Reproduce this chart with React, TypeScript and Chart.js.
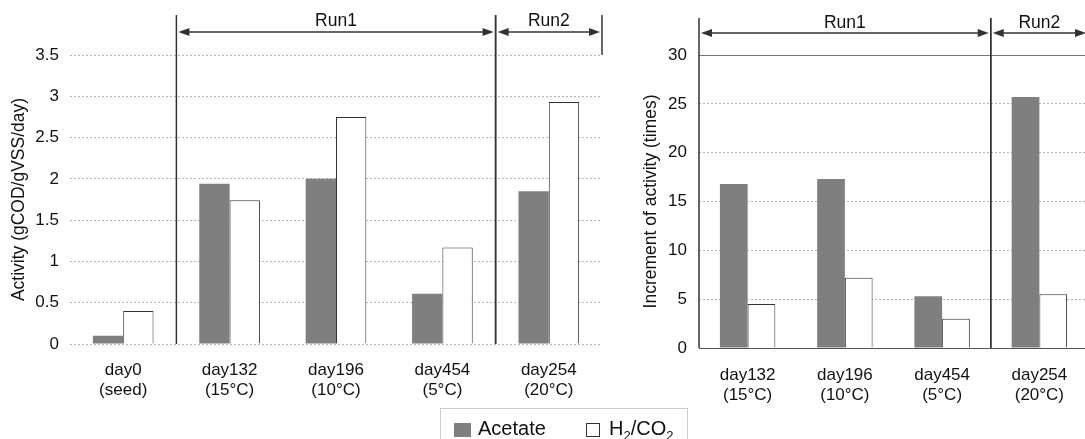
import { useEffect, useRef } from 'react';
import { Chart, registerables } from 'chart.js';

Chart.register(...registerables);

// ---------------- data ----------------
const leftCategories = [
  ['day0', '(seed)'],
  ['day132', '(15°C)'],
  ['day196', '(10°C)'],
  ['day454', '(5°C)'],
  ['day254', '(20°C)'],
];
const leftAcetate = [0.1, 1.94, 2.0, 0.61, 1.85];
const leftH2CO2 = [0.4, 1.74, 2.75, 1.17, 2.93];

const rightCategories = [
  ['day132', '(15°C)'],
  ['day196', '(10°C)'],
  ['day454', '(5°C)'],
  ['day254', '(20°C)'],
];
const rightAcetate = [16.8, 17.3, 5.3, 25.7];
const rightH2CO2 = [4.5, 7.2, 3.0, 5.5];

const leftRuns = [
  { label: 'Run1', first: 1, last: 3 },
  { label: 'Run2', first: 4, last: 4 },
];
const rightRuns = [
  { label: 'Run1', first: 0, last: 2 },
  { label: 'Run2', first: 3, last: 3 },
];

const leftTitle = 'Activity (gCOD/gVSS/day)';
const rightTitle = 'Increment of activity (times)';

// ---------------- styles ----------------
const FONT = "'Liberation Sans', Arial, sans-serif";
const TEXT = '#111';
const ACETATE_FILL = '#7f7f7f';
const LINE = '#333';

function makeRunPlugin(runs: any[], cfg: any) {
  return {
    id: 'runs',
    afterDraw(chart: any) {
      const { ctx, chartArea } = chart;
      const xs = chart.scales.x;
      const n = chart.data.labels.length;
      const px = (i: number) => xs.getPixelForValue(i);
      const bound = (i: number) =>
        i <= 0 ? chartArea.left : i >= n ? chartArea.right : (px(i - 1) + px(i)) / 2;
      ctx.save();
      if (cfg.topLine) {
        ctx.strokeStyle = '#777';
        ctx.lineWidth = 1;
        ctx.beginPath();
        const y = Math.round(chartArea.top) + 0.5;
        ctx.moveTo(chartArea.left, y);
        ctx.lineTo(chartArea.right, y);
        ctx.stroke();
      }
      ctx.strokeStyle = LINE;
      ctx.fillStyle = LINE;
      ctx.lineWidth = 1.5;
      const vline = (x: number, y0: number, y1: number) => {
        ctx.beginPath();
        ctx.moveTo(x, y0);
        ctx.lineTo(x, y1);
        ctx.stroke();
      };
      const arrow = (xa: number, xb: number, y: number) => {
        const g = 2, L = 11, W = 4;
        const a = xa + g, b = xb - g;
        ctx.lineWidth = 1.5;
        ctx.beginPath();
        ctx.moveTo(a + L - 2, y);
        ctx.lineTo(b - L + 2, y);
        ctx.stroke();
        ctx.beginPath();
        ctx.moveTo(a, y);
        ctx.lineTo(a + L, y - W);
        ctx.lineTo(a + L, y + W);
        ctx.closePath();
        ctx.fill();
        ctx.beginPath();
        ctx.moveTo(b, y);
        ctx.lineTo(b - L, y - W);
        ctx.lineTo(b - L, y + W);
        ctx.closePath();
        ctx.fill();
      };
      runs.forEach((r: any) => {
        const x0 = bound(r.first);
        const x1 = bound(r.last + 1);
        vline(x0, cfg.lineTop, chartArea.bottom);
        vline(x1, cfg.lineTop, r.last + 1 >= n ? chartArea.top : chartArea.bottom);
        arrow(x0, x1, cfg.arrowY);
        ctx.font = `${cfg.labelSize}px ${FONT}`;
        ctx.fillStyle = TEXT;
        ctx.textAlign = 'center';
        ctx.textBaseline = 'middle';
        ctx.fillText(r.label, (x0 + x1) / 2, cfg.labelY);
        ctx.fillStyle = LINE;
      });
      ctx.restore();
    },
  };
}

function buildConfig(opts: any) {
  return {
    type: 'bar',
    data: {
      labels: opts.categories,
      datasets: [
        {
          label: 'Acetate',
          data: opts.acetate,
          backgroundColor: ACETATE_FILL,
          borderColor: '#6a6a6a',
          borderWidth: 0,
        },
        {
          label: 'H₂/CO₂',
          data: opts.h2,
          backgroundColor: '#ffffff',
          borderColor: LINE,
          borderWidth: 1,
        },
      ],
    },
    options: {
      responsive: false,
      animation: false,
      events: [],
      layout: { padding: { top: opts.padTop, right: opts.padRight, left: 0, bottom: 0 } },
      datasets: { bar: { categoryPercentage: 0.57, barPercentage: 1 } },
      plugins: { legend: { display: false }, tooltip: { enabled: false } },
      scales: {
        x: {
          grid: { display: false, drawTicks: false },
          border: opts.xBorder
            ? { display: true, color: '#555', width: 1 }
            : { display: false },
          ticks: {
            padding: opts.xTickPad,
            color: TEXT,
            maxRotation: 0,
            autoSkip: false,
            font: { family: FONT, size: 17, lineHeight: '20px' },
          },
          afterFit: (s: any) => {
            s.height = opts.xHeight;
          },
        },
        y: {
          min: 0,
          max: opts.yMax,
          ticks: {
            stepSize: opts.yStep,
            padding: opts.yTickPad,
            color: TEXT,
            font: { family: FONT, size: 17 },
            callback: (v: any) => String(Number(v)),
          },
          grid: { color: '#b5b5b5', drawTicks: false, lineWidth: 1 },
          border: { display: false, dash: [2, 2] },
          title: {
            display: true,
            text: opts.title,
            color: TEXT,
            font: { family: FONT, size: 17.5 },
            padding: { top: opts.titlePad, bottom: 0 },
          },
          afterFit: (s: any) => {
            s.width = opts.yWidth;
          },
        },
      },
    },
    plugins: [makeRunPlugin(opts.runs, opts.runCfg)],
  };
}

export default function App() {
  const leftRef = useRef<HTMLCanvasElement>(null);
  const rightRef = useRef<HTMLCanvasElement>(null);

  useEffect(() => {
    const left = new Chart(
      leftRef.current as HTMLCanvasElement,
      buildConfig({
        categories: leftCategories,
        acetate: leftAcetate,
        h2: leftH2CO2,
        runs: leftRuns,
        runCfg: { lineTop: 15, arrowY: 32, labelY: 21, labelSize: 17.5 },
        padTop: 55,
        padRight: 18,
        xHeight: 95,
        xTickPad: 16,
        xBorder: false,
        yMax: 3.5,
        yStep: 0.5,
        yTickPad: 11,
        yWidth: 70,
        title: leftTitle,
        titlePad: 8.5,
      }) as any
    );
    const right = new Chart(
      rightRef.current as HTMLCanvasElement,
      buildConfig({
        categories: rightCategories,
        acetate: rightAcetate,
        h2: rightH2CO2,
        runs: rightRuns,
        runCfg: { lineTop: 18, arrowY: 33, labelY: 23, labelSize: 17.5, topLine: true },
        padTop: 55,
        padRight: 12,
        xHeight: 91,
        xTickPad: 17,
        xBorder: true,
        yMax: 30,
        yStep: 5,
        yTickPad: 12,
        yWidth: 79,
        title: rightTitle,
        titlePad: 20.5,
      }) as any
    );
    return () => {
      left.destroy();
      right.destroy();
    };
  }, []);

  return (
    <div
      style={{
        position: 'fixed',
        left: 0,
        top: 0,
        width: 1085,
        height: 439,
        overflow: 'hidden',
        background: '#fff',
        fontFamily: FONT,
      }}
    >
      <canvas
        ref={leftRef}
        width={620}
        height={439}
        style={{ position: 'absolute', left: 0, top: 0, width: 620, height: 439 }}
      />
      <canvas
        ref={rightRef}
        width={480}
        height={439}
        style={{ position: 'absolute', left: 620, top: 0, width: 480, height: 439 }}
      />
      <div
        style={{
          position: 'absolute',
          left: 440,
          top: 408,
          width: 248,
          height: 40,
          border: '1px solid #ccc',
          boxSizing: 'border-box',
        }}
      >
        <span
          style={{
            position: 'absolute',
            left: 13,
            top: 14,
            width: 17,
            height: 14,
            background: ACETATE_FILL,
          }}
        />
        <span
          style={{
            position: 'absolute',
            left: 37,
            top: 9,
            fontSize: 20,
            lineHeight: '20px',
            color: TEXT,
            whiteSpace: 'nowrap',
          }}
        >
          Acetate
        </span>
        <span
          style={{
            position: 'absolute',
            left: 145,
            top: 14,
            width: 14,
            height: 14,
            border: `1px solid ${LINE}`,
            boxSizing: 'border-box',
            background: '#fff',
          }}
        />
        <span
          style={{
            position: 'absolute',
            left: 168,
            top: 9,
            fontSize: 20,
            lineHeight: '20px',
            color: TEXT,
            whiteSpace: 'nowrap',
          }}
        >
          H<sub style={{ fontSize: 13, lineHeight: 0 }}>2</sub>/CO
          <sub style={{ fontSize: 13, lineHeight: 0 }}>2</sub>
        </span>
      </div>
    </div>
  );
}
